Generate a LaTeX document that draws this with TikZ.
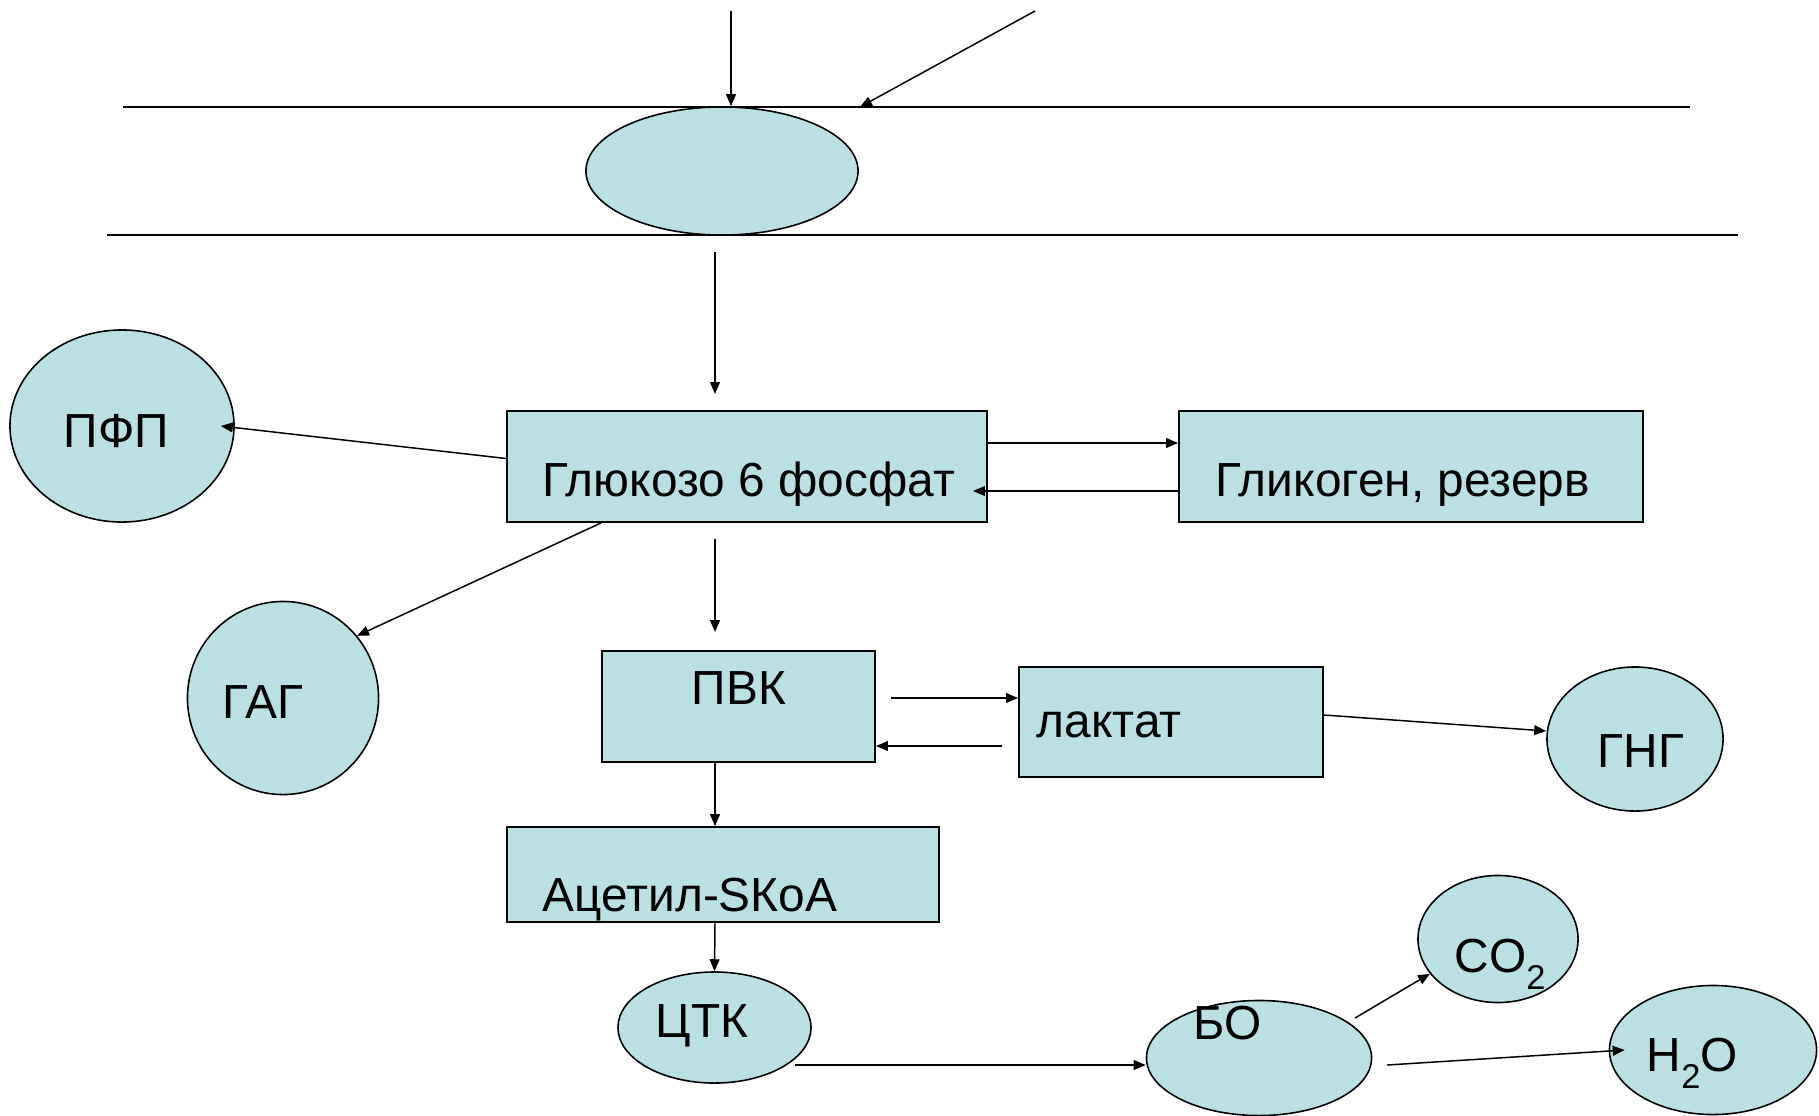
\documentclass[tikz,border=0pt]{standalone}
\usepackage{fontspec}
\setmainfont{Liberation Sans}
\usetikzlibrary{shapes.geometric,arrows.meta}
\definecolor{cyt}{RGB}{186,224,227}
\def\fs{13.6pt}
\newcommand{\lowidx}[1]{\raisebox{-5pt}{\fontsize{9.8pt}{10pt}\selectfont #1}}
\tikzset{
	box/.style={
		rectangle,
		draw=black,
		fill=cyt,
		line width=0.5pt,
		inner sep=0pt,
	},
	blob/.style={
		ellipse,
		draw=black,
		fill=cyt,
		line width=0.45pt,
		inner sep=0pt,
	},
	txt/.style={
		inner sep=0pt,
		anchor=base west,
		font=\fontsize{\fs}{15pt}\selectfont,
	},
	arr/.style={-{Triangle[length=3.4pt,width=2.8pt]}, line width=0.42pt},
	wall/.style={line width=0.5pt},
}
\begin{document}
\begin{tikzpicture}[x=0.01cm, y=-0.01cm]
	\useasboundingbox (0,0) rectangle (1819,1115);

	% membrane
	\draw[wall] (123,107) -- (1690,107);
	\draw[wall] (107,235) -- (1738,235);
	\node[blob, minimum width=2.72cm, minimum height=1.28cm] (carrier) at (722,171) {};
	\coordinate (in1) at (731,11);
	\coordinate (in2) at (1035,11);
	\coordinate (in2end) at (860,107);
	\draw[arr] (in1) -- (in1 |- carrier.north);
	\draw[arr] (in2) -- (in2end);

	% boxes
	\node[box, minimum width=4.8cm, minimum height=1.11cm] (g6p) at (747,466.5) {};
	\node[box, minimum width=4.64cm, minimum height=1.11cm] (glyc) at (1411,466.5) {};
	\node[box, minimum width=2.73cm, minimum height=1.11cm] (pvk) at (738.5,706.5) {};
	\node[box, minimum width=3.04cm, minimum height=1.10cm] (lakt) at (1171,722) {};
	\node[box, minimum width=4.32cm, minimum height=0.95cm] (acet) at (723,874.5) {};

	% ellipses
	\node[blob, minimum width=2.24cm, minimum height=1.92cm] (pfp) at (122,426) {};
	\node[blob, minimum width=1.91cm, minimum height=1.93cm] (gag) at (283,698) {};
	\node[blob, minimum width=1.76cm, minimum height=1.44cm] (gng) at (1635,739) {};
	\node[blob, minimum width=1.93cm, minimum height=1.11cm] (ctk) at (714.5,1027.5) {};
	\node[blob, minimum width=2.25cm, minimum height=1.15cm] (bo) at (1259,1058) {};
	\node[blob, minimum width=1.60cm, minimum height=1.27cm] (co2) at (1498,939) {};
	\node[blob, minimum width=2.07cm, minimum height=1.29cm] (h2o) at (1713,1050) {};

	% texts
	\node[txt] (g6p-t) at (542,496) {Глюкозо 6 фосфат};
	\node[txt] (glyc-t) at (1215,496) {Гликоген, резерв};
	\node[txt] (pvk-t) at (691,704) {ПВК};
	\node[txt] (lakt-t) at (1036,737) {лактат};
	\node[txt] (acet-t) at (542,911) {Ацетил-SКоА};
	\node[txt] (pfp-t) at (63,447) {ПФП};
	\node[txt] (gag-t) at (222,718) {ГАГ};
	\node[txt] (gng-t) at (1597,767) {ГНГ};
	\node[txt] (ctk-t) at (655,1037) {ЦТК};
	\node[txt] (bo-t) at (1193,1039) {БО};
	\node[txt] (co2-t) at (1454,972) {CO\lowidx{2}};
	\node[txt] (h2o-t) at (1646,1071) {H\lowidx{2}O};

	% main line
	\coordinate (spine) at (715,0);
	\coordinate (s1) at (715,252);
	\coordinate (s2) at (715,394);
	\coordinate (s3) at (715,539);
	\coordinate (s4) at (715,632);
	\draw[arr] (s1) -- (s2);
	\draw[arr] (s3) -- (s4);
	\draw[arr] (pvk.south -| spine) -- (acet.north -| spine);
	\draw[arr] (acet.south -| spine) -- (ctk.north);

	% side ways
	\draw[arr] ([yshift=0.08cm]g6p.west) -- ([xshift=-0.14cm]pfp.east);
	\draw[arr] ([yshift=0.235cm]g6p.east) -- ([yshift=0.235cm]glyc.west);
	\draw[arr] ([yshift=-0.245cm]glyc.west) -- ([xshift=-0.15cm,yshift=-0.245cm]g6p.east);
	\draw[arr] ([xshift=0.95cm]g6p.south west) -- (gag.40);

	\coordinate (pl) at (891,698);
	\coordinate (lp) at (1002,746);
	\draw[arr] (pl) -- (pl -| lakt.west);
	\draw[arr] (lp) -- (lp -| pvk.east);
	\draw[arr] ([yshift=0.07cm]lakt.east) -- ([yshift=0.08cm]gng.west);

	\coordinate (cb) at (795,1065);
	\coordinate (bc) at (1355,1018);
	\coordinate (bh) at (1387,1065);
	\draw[arr] (cb) -- (cb -| bo.west);
	\draw[arr] (bc) -- (co2.207);
	\draw[arr] (bh) -- ([xshift=0.16cm]h2o.west);
\end{tikzpicture}
\end{document}
